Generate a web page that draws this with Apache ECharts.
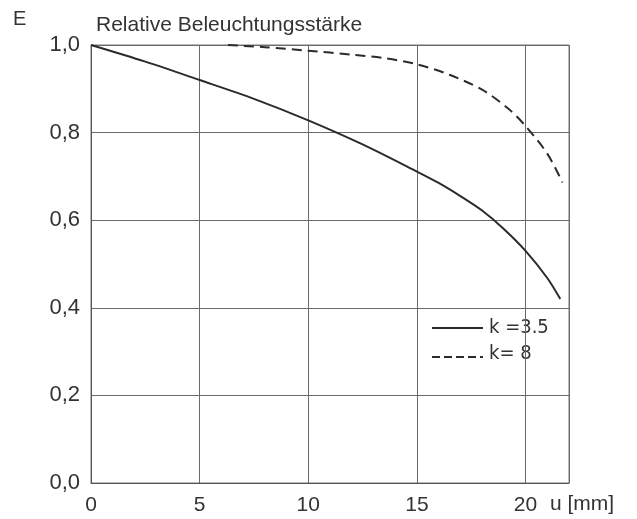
<!DOCTYPE html>
<html>
<head>
<meta charset="utf-8">
<script src="https://cdn.jsdelivr.net/npm/echarts@6/dist/echarts.min.js"></script>
<style>html,body{margin:0;padding:0;background:#fff}#c{width:637px;height:519px}</style>
</head>
<body>
<div id="c"></div>
<script>
// u [mm] and relative illuminance E
const uSolid = [0, 2.5, 5, 7.5, 10, 12.5, 15, 16, 17, 18, 19, 20, 21, 21.6];
const eSolid = [1.0, 0.962, 0.92, 0.877, 0.828, 0.773, 0.711, 0.685, 0.655, 0.622, 0.58, 0.53, 0.468, 0.42];
const uDashed = [6.3, 8, 10, 12, 13.5, 15, 16.5, 18, 19.2, 20, 21, 21.7];
const eDashed = [1.0, 0.995, 0.987, 0.978, 0.97, 0.956, 0.932, 0.898, 0.855, 0.815, 0.752, 0.686];
const seriesNames = ['k =3.5', 'k= 8'];
const xTicks = [0, 5, 10, 15, 20];
const yTicks = [0, 0.2, 0.4, 0.6, 0.8, 1.0];

const chart = echarts.init(document.getElementById('c'));
const font = 'Liberation Sans, Arial, sans-serif';
const narrow = 'DejaVu Sans Condensed, Liberation Sans Narrow, sans-serif';
const ink = '#2b2b2b';
chart.setOption({
  animation: false,
  backgroundColor: '#fff',
  grid: { left: 91, right: 68, top: 45, bottom: 36, show: true, borderColor: '#777', borderWidth: 1 },
  xAxis: {
    type: 'value', min: 0, max: 22, interval: 5,
    axisLine: { show: true, lineStyle: { color: '#555', width: 1 } },
    axisTick: { show: false },
    splitLine: { show: true, lineStyle: { color: '#6a6a6a', width: 1 } },
    axisLabel: {
      margin: 12, color: '#333', fontSize: 21, fontFamily: font,
      formatter: v => xTicks.includes(v) ? String(v) : ''
    }
  },
  yAxis: {
    type: 'value', min: 0, max: 1, interval: 0.2,
    axisLine: { show: true, lineStyle: { color: '#555', width: 1 } },
    axisTick: { show: false },
    splitLine: { show: true, lineStyle: { color: '#6a6a6a', width: 1 } },
    axisLabel: {
      margin: 11, color: '#333', fontSize: 22, fontFamily: font,
      formatter: v => yTicks.some(t => Math.abs(t - v) < 1e-6) ? v.toFixed(1).replace('.', ',') : ''
    }
  },
  graphic: [
    { type: 'text', left: 13, top: 9, style: { text: 'E', fontSize: 20, fill: '#333', fontFamily: font } },
    { type: 'text', left: 96, top: 15, style: { text: 'Relative Beleuchtungsstärke', fontSize: 21, fill: '#333', fontFamily: font } },
    { type: 'text', left: 550, top: 494, style: { text: 'u [mm]', fontSize: 21, fill: '#333', fontFamily: font } },
    { type: 'line', shape: { x1: 432, y1: 328, x2: 483, y2: 328 }, style: { stroke: ink, lineWidth: 2 } },
    { type: 'text', left: 489, top: 318, style: { text: seriesNames[0], fontSize: 20, fill: '#333', fontFamily: narrow } },
    { type: 'line', shape: { x1: 432, y1: 357, x2: 483, y2: 357 }, style: { stroke: ink, lineWidth: 2, lineDash: [8, 4] } },
    { type: 'text', left: 489, top: 344, style: { text: seriesNames[1], fontSize: 20, fill: '#333', fontFamily: narrow } }
  ],
  series: [
    {
      name: seriesNames[0], type: 'line', smooth: 0.3, symbol: 'none',
      data: uSolid.map((u, i) => [u, eSolid[i]]),
      lineStyle: { color: ink, width: 2, type: 'solid' }
    },
    {
      name: seriesNames[1], type: 'line', smooth: 0.3, symbol: 'none',
      data: uDashed.map((u, i) => [u, eDashed[i]]),
      lineStyle: { color: ink, width: 2, type: [10, 6] }
    }
  ]
});
</script>
</body>
</html>
